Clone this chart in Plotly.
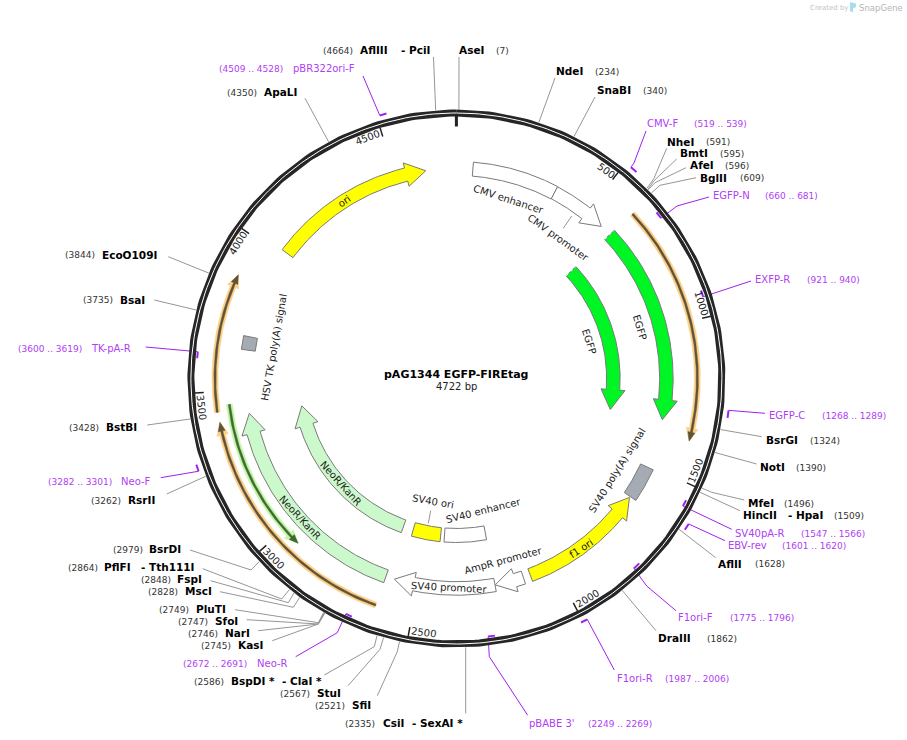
## pAG1344 EGFP-FIREtag plasmid map
import numpy as np
import plotly.graph_objects as go

## Data:
# ======================================
plasmid_name = 'pAG1344 EGFP-FIREtag'
plasmid_size = 4722
tick_bp = [500, 1000, 1500, 2000, 2500, 3000, 3500, 4000, 4500]

# restriction sites
site_names = ['AflIII', 'AseI', 'NdeI', 'SnaBI', 'NheI', 'BmtI', 'AfeI', 'BglII', 'BsrGI', 'NotI',
              'MfeI', 'HincII', 'AflII', 'DraIII', 'CsiI', 'SfiI', 'StuI', 'BspDI *', 'KasI', 'NarI',
              'SfoI', 'PluTI', 'MscI', 'FspI', 'PflFI', 'BsrDI', 'RsrII', 'BstBI', 'BsaI', 'EcoO109I', 'ApaLI']
site_extra = ['- PciI', '', '', '', '', '', '', '', '', '',
              '', '- HpaI', '', '', '- SexAI *', '', '', '- ClaI *', '', '',
              '', '', '', '', '- Tth111I', '', '', '', '', '', '']
site_bp = [4664, 7, 234, 340, 591, 595, 596, 609, 1324, 1390,
           1496, 1509, 1628, 1862, 2335, 2521, 2567, 2586, 2745, 2746,
           2747, 2749, 2828, 2848, 2864, 2979, 3262, 3428, 3735, 3844, 4350]

# primers
primer_names = ['pBR322ori-F', 'CMV-F', 'EGFP-N', 'EXFP-R', 'EGFP-C', 'SV40pA-R', 'EBV-rev',
                'F1ori-F', 'F1ori-R', "pBABE 3'", 'Neo-R', 'Neo-F', 'TK-pA-R']
primer_start = [4509, 519, 660, 921, 1268, 1547, 1601, 1775, 1987, 2249, 2672, 3282, 3600]
primer_end = [4528, 539, 681, 940, 1289, 1566, 1620, 1796, 2006, 2269, 2691, 3301, 3619]

# features with an arrow head (start -> tip)
arrow_names = ['ori', 'CMV promoter', 'EGFP', 'EGFP', 'f1 ori', 'AmpR promoter', 'SV40 promoter', 'NeoR/KanR', 'NeoR/KanR']
arrow_start = [4020, 365, 614, 615, 2091, 2117, 2222, 2618, 2619]
arrow_tip = [4612, 572, 1329, 1330, 1633, 2221, 2586, 3416, 3410]

# features without arrow head
box_names = ['CMV enhancer', 'SV40 poly(A) signal', 'SV40 enhancer', 'SV40 ori', 'HSV TK poly(A) signal']
box_start = [59, 1507, 2222, 2436, 3643]
box_end = [365, 1629, 2418, 2570, 3691]

# thin translated arrows next to the ring
thin_start = [616, 3436, 2618, 3456]
thin_tip = [1378, 3875, 3404, 2936]

## Layout (pixels):
# ======================================
CX, CY = 456.4, 378.5
R_RING = 265.5
R_SITE = 269

site_y = [50, 50, 71, 90, 141.5, 153, 165, 177.5, 440, 467,
          503, 515, 563.5, 638, 723, 705, 693, 681, 645, 633,
          621, 609, 591, 579, 567, 549, 500, 427, 299.7, 254.5, 92]
site_x = [360, 459, 556, 597, 667, 679.5, 690, 700.3, 766.3, 760.3,
          748.3, 743.3, 718, 658.3, 382.7, 352, 317, 231.3, 238.3, 225.3,
          215, 196.3, 185.3, 177, 104, 149.3, 128.3, 106, 120.3, 102.3, 264.3]
site_pos_x = [323.3, 496, 595, 643, 706, 720, 725, 740, 810, 796,
              784, 834, 755, 707, 345, 315, 280, 194.3, 201, 188.3,
              178.3, 159.3, 148, 140.7, 68, 113, 91, 69.3, 83, 65, 227.3]
site_extra_x = [400.7, 0, 0, 0, 0, 0, 0, 0, 0, 0,
                0, 787.7, 0, 0, 412.3, 0, 0, 281.7, 0, 0,
                0, 0, 0, 0, 141, 0, 0, 0, 0, 0, 0]
site_lead = [[(433.5, 57)], [(459, 57)], [(555, 78)], [(595, 97)],
             [(654, 178.3), (666.7, 148.3)], [(654, 180.7), (676.7, 159)], [(655, 182.7), (686, 167.7)], [(660, 185.3), (696, 177.7)],
             [(761.7, 436.7)], [(756.7, 464)], [(711.7, 492.3), (744.3, 500)], [(740, 510.7)], [(715.7, 557.7)], [(656, 630.7)],
             [(465.7, 713.3)], [(397.3, 651.7), (377.3, 695.7)], [(380, 649.3), (348, 685.7)], [(374.3, 646.7), (324.3, 675)],
             [(318.3, 624), (272.3, 640.7)], [(318.3, 624), (258.3, 630.7)], [(318.3, 624), (246.7, 619.7)], [(318.3, 622.7), (235, 609.7)],
             [(293.3, 607.3), (220, 591.7)], [(288.3, 602.7), (210.7, 580.7)], [(281.7, 599), (202.7, 568.7)], [(251, 570), (190, 550)],
             [(166.7, 494)], [(147.3, 425)], [(154.3, 300)], [(168.3, 256.7)], [(305, 98.3)]]

primer_r = [274, 274, 260, 260, 274, 260, 274, 260, 274, 260, 260, 274, 260]
primer_x = [292.7, 647.3, 713.3, 755.3, 769.3, 735.3, 728.3, 678, 616.7, 529.3, 256.7, 121.3, 91]
primer_y = [68.5, 123, 195.5, 279.5, 415, 533.5, 545.5, 617, 678, 723, 663, 481, 348]
primer_pos_x = [219.3, 694.3, 765.3, 806.7, 821.7, 800.7, 781.7, 730, 665, 588.3, 183.3, 48.3, 18.3]
primer_lead = [[(363, 76)], [(634, 163), (646, 131)], [(677, 206), (709, 197)], [(751, 281)], [(765, 413.3)],
               [(731.7, 529.3)], [(725, 540.7)], [(646.7, 586), (676, 610.7)], [(614.3, 670)],
               [(489.3, 656.7), (527.7, 715.3)], [(337.3, 632.7), (295.7, 656.7)], [(160.7, 477.7)], [(145.7, 347)]]

arrow_r = [210, 210, 210, 157, 210, 210, 210, 210, 157]
arrow_fill = ['#ffff00', '#ffffff', '#00f524', '#00f524', '#ffff00', '#ffffff', '#ffffff', '#ccf9cc', '#ccf9cc']
arrow_text = [(344, 201.7, -35), (558, 237.3, 36), (640, 327.3, 73), (589, 341.7, 72), (581, 548, -33),
              (502.7, 560, -15), (449.3, 587.3, 3), (300, 517.7, 47), (341, 483.3, 48)]

box_r = [210, 210, 157, 157, 210]
box_fill = ['#ffffff', '#a5abb3', '#ffffff', '#ffff00', '#a5abb3']
box_text = [(509, 199, 18), (616.7, 470, -58), (483.3, 510, -14), (433.3, 501.7, 10), (274, 347.5, -80)]

thin_r = [241, 241.5, 240.5, 228.5]
thin_band = ['#fdd08a', '#fdd08a', '#fdd08a', '#c3f5a8']
thin_line = ['#5f5236', '#5f5236', '#5f5236', '#3f6a2f']

FONT = 'DejaVu Sans'
PURPLE = '#a020f0'
PURPLE_TEXT = '#b040f5'
GREY = '#969696'


## Helpers:
# ======================================
def polar(bp, r):
    a = 2 * np.pi * np.asarray(bp, dtype=float) / plasmid_size
    return CX + r * np.sin(a), CY - r * np.cos(a)


def arc(bp1, bp2, r, n=80):
    return polar(np.linspace(bp1, bp2, n), r)


def arrow_shape(start, tip, r, width, head_width, head_len):
    # outline of an arc shaped arrow, head_len is given in pixels
    sign = 1 if tip > start else -1
    neck = tip - sign * head_len / r * plasmid_size / (2 * np.pi)
    xo, yo = arc(start, neck, r + width / 2)
    xi, yi = arc(neck, start, r - width / 2)
    xh1, yh1 = polar(neck, r + head_width / 2)
    xt, yt = polar(tip, r)
    xh2, yh2 = polar(neck, r - head_width / 2)
    x = list(xo) + [xh1, xt, xh2] + list(xi) + [xo[0]]
    y = list(yo) + [yh1, yt, yh2] + list(yi) + [yo[0]]
    return x, y


def box_shape(start, end, r, width):
    xo, yo = arc(start, end, r + width / 2)
    xi, yi = arc(end, start, r - width / 2)
    return list(xo) + list(xi) + [xo[0]], list(yo) + list(yi) + [yo[0]]


def add_line(x, y, color, width, dash=None):
    fig.add_trace(go.Scatter(x=list(x), y=list(y), mode='lines', hoverinfo='skip',
                             line=dict(color=color, width=width, dash=dash)))


def add_fill(x, y, fill, color='#7a7a7a', width=1):
    fig.add_trace(go.Scatter(x=x, y=y, mode='lines', fill='toself', fillcolor=fill, hoverinfo='skip',
                             line=dict(color=color, width=width)))


def add_text(x, y, text, size, color='#222222', angle=0, anchor='left', bold=False):
    if bold:
        text = '<b>' + text + '</b>'
    # annotations sit about a pixel right of the given left edge
    if anchor == 'left':
        x = x - 1
    fig.add_annotation(x=x, y=y, text=text, showarrow=False, xanchor=anchor, yanchor='middle',
                       textangle=angle, borderpad=0, font=dict(family=FONT, size=size, color=color))


fig = go.Figure()

## Thin arrows:
# ======================================
for s, t, r, band, dark in zip(thin_start, thin_tip, thin_r, thin_band, thin_line):
    x, y = arrow_shape(s, t, r, 6, 12, 13)
    add_fill(x, y, band, color=band, width=0.5)
    x, y = arrow_shape(s, t, r, 2, 7, 9)
    add_fill(x, y, dark, color=dark, width=0.5)

## Features:
# ======================================
for name, s, e, r, fill in zip(box_names, box_start, box_end, box_r, box_fill):
    x, y = box_shape(s, e, r, 14)
    add_fill(x, y, fill)

for name, s, t, r, fill in zip(arrow_names, arrow_start, arrow_tip, arrow_r, arrow_fill):
    x, y = arrow_shape(s, t, r, 13.5, 24, 20)
    add_fill(x, y, fill)
    if name == 'EGFP':
        # partial feature: dotted start edge
        xe, ye = polar([s, s], [r - 6.5, r + 6.5])
        add_line(xe, ye, '#ffffff', 1, dash='dot')

# small connectors from the labels to their feature
add_line([571.7, 563.3], [216, 228.3], GREY, 1)
add_line([430.7, 428.3], [510.7, 523.3], GREY, 1)

## Primers (under the ring, the leaders of the inner ones run below it):
# ======================================
for i, name in enumerate(primer_names):
    xb, yb = arc(primer_start[i], primer_end[i], primer_r[i], n=10)
    add_line(xb, yb, PURPLE, 2)
    if primer_r[i] > R_RING:
        rx, ry = polar(primer_start[i], primer_r[i])
    else:
        rx, ry = polar(primer_end[i], primer_r[i])
    add_line([rx] + [p[0] for p in primer_lead[i]], [ry] + [p[1] for p in primer_lead[i]], PURPLE, 1)
    add_text(primer_x[i], primer_y[i], name, 10, color=PURPLE_TEXT)
    add_text(primer_pos_x[i], primer_y[i] + 0.5, '(%d .. %d)' % (primer_start[i], primer_end[i]), 9, color=PURPLE_TEXT)

## Ring and ticks:
# ======================================
xr, yr = arc(0, plasmid_size, R_RING, n=361)
add_line(xr, yr, '#262626', 7)
add_line(xr, yr, '#ffffff', 1)

xt, yt = polar([0, 0], [264, 252])
add_line(xt, yt, '#222222', 3)

for bp in tick_bp:
    xt, yt = polar([bp, bp], [262, 253])
    add_line(xt, yt, '#222222', 1.5)
    shift = 2.4 if bp == 500 else 3.3
    label_bp = bp - shift / 360 * plasmid_size
    lx, ly = polar(label_bp, 256.5)
    angle = 360 * label_bp / plasmid_size
    if angle > 270:
        angle -= 360
    elif angle > 90:
        angle -= 180
    add_text(float(lx), float(ly), str(bp), 10, angle=angle, anchor='center')

## Restriction sites:
# ======================================
for i, name in enumerate(site_names):
    rx, ry = polar(site_bp[i], R_SITE)
    add_line([rx] + [p[0] for p in site_lead[i]], [ry] + [p[1] for p in site_lead[i]], GREY, 1)
    add_text(site_x[i], site_y[i], name, 10.5, color='#000000', bold=True)
    if site_extra[i]:
        add_text(site_extra_x[i], site_y[i], site_extra[i], 10.5, color='#000000', bold=True)
    add_text(site_pos_x[i], site_y[i] + 0.5, '(%d)' % site_bp[i], 9, color='#333333')

## Feature labels:
# ======================================
for name, (x, y, angle) in zip(arrow_names, arrow_text):
    add_text(x, y, name, 10, angle=angle, anchor='center')
for name, (x, y, angle) in zip(box_names, box_text):
    add_text(x, y, name, 10, angle=angle, anchor='center')

## Title and logo:
# ======================================
add_text(CX, 374, plasmid_name, 11, color='#000000', anchor='center', bold=True)
add_text(CX, 386, '%d bp' % plasmid_size, 10, color='#222222', anchor='center')
add_text(809.5, 7.5, 'Created by', 7, color='#c4c4c4')
add_text(859, 7.5, 'SnapGene', 8.5, color='#b4b4b4')
fig.add_shape(type='path', path='M 850 2 L 856 3.5 L 856 7 L 853 8.5 L 853 12.5 L 850 11 Z',
              fillcolor='#a8dcf0', line=dict(width=0))

fig.update_layout(width=907, height=740, margin=dict(l=0, r=0, t=0, b=0), showlegend=False,
                  paper_bgcolor='white', plot_bgcolor='white')
fig.update_xaxes(range=[0, 907], visible=False, fixedrange=True)
fig.update_yaxes(range=[740, 0], visible=False, fixedrange=True)

fig.write_html('out.html', post_script="document.body.style.margin='0';document.body.style.overflow='hidden';",
               config=dict(displayModeBar=False))
